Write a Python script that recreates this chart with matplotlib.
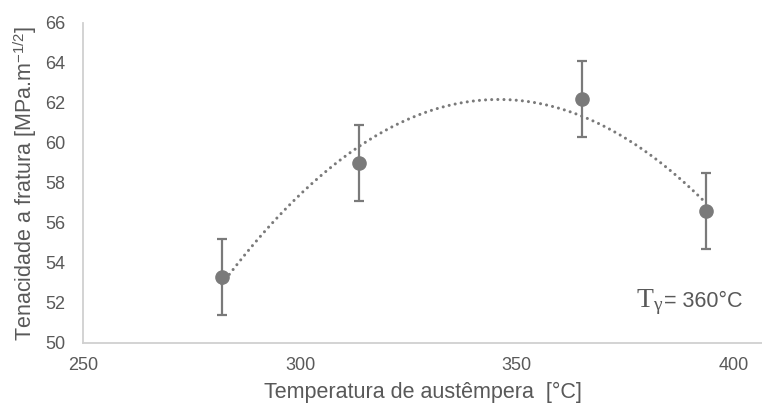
import numpy as np
import matplotlib
matplotlib.use("Agg")
import matplotlib.pyplot as plt

temps = [282, 313.5, 365, 393.5]
toughness = [53.3, 59.0, 62.2, 56.6]
errors = [1.9, 1.9, 1.9, 1.9]
xticks = [250, 300, 350, 400]
yticks = [50, 52, 54, 56, 58, 60, 62, 64, 66]

plt.rcParams['font.family'] = ['Liberation Sans', 'DejaVu Sans']
plt.rcParams['mathtext.fontset'] = 'custom'
plt.rcParams['mathtext.rm'] = 'Liberation Serif'
plt.rcParams['mathtext.it'] = 'Liberation Serif:italic'

txt = '#595959'
fig = plt.figure(figsize=(7.62, 4.03), dpi=100)
ax = fig.add_axes([0.109, 0.149, 0.891, 0.794])

coef = np.polyfit(temps, toughness, 2)
xs = np.linspace(temps[0], temps[-1], 300)
ax.plot(xs, np.polyval(coef, xs), linestyle=(0, (0.01, 2.0)), color='#7a7a7a',
        linewidth=2.2, dash_capstyle='round', zorder=2)

ax.errorbar(temps, toughness, yerr=errors, fmt='o', color='#7a7a7a',
            markersize=9.5, elinewidth=1.6, capsize=3.8, capthick=1.6, zorder=3)

ax.set_xlim(250, 406.5)
ax.set_ylim(50, 66)
ax.set_xticks(xticks)
ax.set_yticks(yticks)
ax.tick_params(length=0, labelsize=13, colors=txt)
ax.tick_params(axis='x', pad=10)
ax.tick_params(axis='y', pad=13)
for s in ['top', 'right']:
    ax.spines[s].set_visible(False)
for s in ['left', 'bottom']:
    ax.spines[s].set_color('#d0d0d0')
    ax.spines[s].set_linewidth(1.3)

ax.set_xlabel('Temperatura de austêmpera  [°C]', fontsize=15.5, color=txt, labelpad=6)
ax.set_ylabel('Tenacidade a fratura [MPa.m$^{\\mathregular{-1/2}}$]', fontsize=15.5, color=txt, labelpad=4)

ax.text(0.855, 0.112, '= 360°C', transform=ax.transAxes, ha='left', va='baseline',
        fontsize=15.5, color=txt)
ax.text(0.855, 0.112, r'$\mathrm{T_{γ}}$', transform=ax.transAxes, ha='right', va='baseline',
        fontsize=20, color=txt)

fig.savefig('out.png', dpi=100)
